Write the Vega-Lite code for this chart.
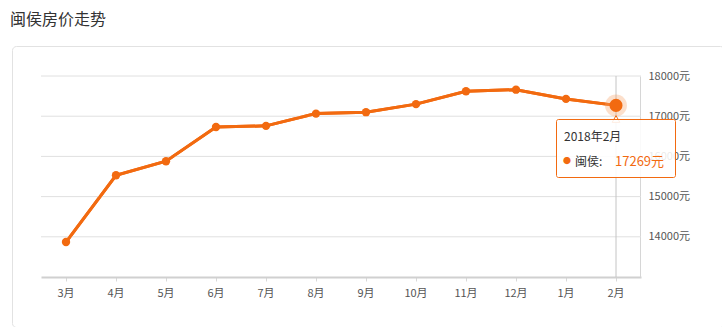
{
  "$schema": "https://vega.github.io/schema/vega-lite/v6.json",
  "width": 712,
  "height": 281,
  "autosize": {"type": "none"},
  "padding": {"left": 12, "top": 46, "right": 0, "bottom": 0},
  "background": "white",
  "title": {
    "text": "闽侯房价走势",
    "anchor": "start",
    "baseline": "bottom",
    "offset": 2,
    "dx": -2,
    "fontSize": 16,
    "fontWeight": "normal",
    "color": "#333333",
    "font": "Noto Sans CJK SC"
  },
  "config": {
    "view": {"stroke": "#e2e2e2", "strokeWidth": 1, "cornerRadius": 4, "fill": "white"},
    "font": "Noto Sans CJK SC",
    "text": {"fontWeight": "normal"}
  },
  "data": {
    "values": [
      {"month": "3月", "price": 13870},
      {"month": "4月", "price": 15530},
      {"month": "5月", "price": 15880},
      {"month": "6月", "price": 16730},
      {"month": "7月", "price": 16760},
      {"month": "8月", "price": 17065},
      {"month": "9月", "price": 17100},
      {"month": "10月", "price": 17300},
      {"month": "11月", "price": 17620},
      {"month": "12月", "price": 17660},
      {"month": "1月", "price": 17430},
      {"month": "2月", "price": 17269}
    ]
  },
  "layer": [
    {
      "mark": {"type": "line", "color": "#f26a10", "strokeWidth": 3},
      "encoding": {
        "x": {
          "field": "month",
          "type": "nominal",
          "scale": {"domain": ["3月","4月","5月","6月","7月","8月","9月","10月","11月","12月","1月","2月"], "range": [29, 629]},
          "axis": {
            "orient": "bottom",
            "offset": -50,
            "title": null,
            "labelAngle": 0,
            "domainColor": "#d0d0d0",
            "domainWidth": 2,
            "tickColor": "#d8d8d8",
            "tickSize": 4,
            "labelPadding": 6,
            "labelColor": "#555555",
            "labelFontSize": 11,
            "labelFontWeight": "normal",
            "grid": false
          }
        },
        "y": {
          "field": "price",
          "type": "quantitative",
          "scale": {"domain": [13000, 18000], "range": [231, 30], "nice": false, "zero": false},
          "axis": {
            "orient": "right",
            "offset": -84,
            "title": null,
            "values": [14000, 15000, 16000, 17000, 18000],
            "labelExpr": "datum.value + '元'",
            "domainColor": "#d6d6d6",
            "domainWidth": 1,
            "ticks": false,
            "labelPadding": 8,
            "labelColor": "#555555",
            "labelFontSize": 11,
            "labelFontWeight": "normal",
            "grid": false
          }
        }
      }
    },
    {
      "data": {"values": [{"v": 14000}, {"v": 15000}, {"v": 16000}, {"v": 17000}, {"v": 18000}]},
      "mark": {"type": "rule", "color": "#e0e0e0", "strokeWidth": 1, "xOffset": -25, "x2Offset": 25},
      "encoding": {
        "y": {"field": "v", "type": "quantitative"},
        "x": {"datum": "3月", "type": "nominal"},
        "x2": {"datum": "2月"}
      }
    },
    {
      "data": {"values": [{}]},
      "mark": {"type": "rule", "color": "#c4c4c4", "strokeWidth": 1},
      "encoding": {
        "x": {"datum": "2月", "type": "nominal"},
        "y": {"datum": 18000, "type": "quantitative"},
        "y2": {"datum": 13000}
      }
    },
    {
      "mark": {"type": "line", "color": "#f26a10", "strokeWidth": 3},
      "encoding": {
        "x": {"field": "month", "type": "nominal"},
        "y": {"field": "price", "type": "quantitative"}
      }
    },
    {
      "mark": {"type": "circle", "color": "#f26a10", "size": 70, "opacity": 1},
      "encoding": {
        "x": {"field": "month", "type": "nominal"},
        "y": {"field": "price", "type": "quantitative"}
      }
    },
    {
      "transform": [{"filter": "datum.month == '2月'"}],
      "mark": {"type": "circle", "color": "#f7a36b", "size": 480, "opacity": 0.35},
      "encoding": {
        "x": {"field": "month", "type": "nominal"},
        "y": {"field": "price", "type": "quantitative"}
      }
    },
    {
      "transform": [{"filter": "datum.month == '2月'"}],
      "mark": {"type": "circle", "color": "#f26a10", "size": 170, "opacity": 1},
      "encoding": {
        "x": {"field": "month", "type": "nominal"},
        "y": {"field": "price", "type": "quantitative"}
      }
    },
    {
      "data": {"values": [{}]},
      "mark": {"type": "point", "shape": "triangle-up", "filled": true, "fill": "white", "stroke": "#f26a10", "strokeWidth": 1, "size": 60, "opacity": 1},
      "encoding": {
        "x": {"datum": "2月", "type": "nominal"},
        "y": {"datum": 16930, "type": "quantitative"}
      }
    },
    {
      "data": {"values": [{}]},
      "mark": {"type": "bar", "width": 119, "fill": "white", "fillOpacity": 0.88, "stroke": "#f26a10", "strokeWidth": 1, "cornerRadius": 2},
      "encoding": {
        "x": {"datum": "2月", "type": "nominal"},
        "y": {"datum": 16918, "type": "quantitative"},
        "y2": {"datum": 15475}
      }
    },
    {
      "data": {"values": [{}]},
      "mark": {"type": "text", "text": "2018年2月", "align": "left", "baseline": "middle", "dx": -52, "fontSize": 12, "fontWeight": "normal", "fill": "#333333"},
      "encoding": {
        "x": {"datum": "2月", "type": "nominal"},
        "y": {"datum": 16495, "type": "quantitative"}
      }
    },
    {
      "data": {"values": [{}]},
      "mark": {"type": "text", "text": "●", "align": "center", "baseline": "middle", "dx": -49, "fontSize": 8, "fill": "#f26a10"},
      "encoding": {
        "x": {"datum": "2月", "type": "nominal"},
        "y": {"datum": 15873, "type": "quantitative"}
      }
    },
    {
      "data": {"values": [{}]},
      "mark": {"type": "text", "text": "闽侯:", "align": "left", "baseline": "middle", "dx": -41, "fontSize": 12, "fontWeight": "normal", "fill": "#333333"},
      "encoding": {
        "x": {"datum": "2月", "type": "nominal"},
        "y": {"datum": 15873, "type": "quantitative"}
      }
    },
    {
      "data": {"values": [{}]},
      "mark": {"type": "text", "text": "17269元", "align": "left", "baseline": "middle", "dx": -1, "fontSize": 13, "fontWeight": "normal", "fill": "#f26a10"},
      "encoding": {
        "x": {"datum": "2月", "type": "nominal"},
        "y": {"datum": 15873, "type": "quantitative"}
      }
    }
  ]
}
